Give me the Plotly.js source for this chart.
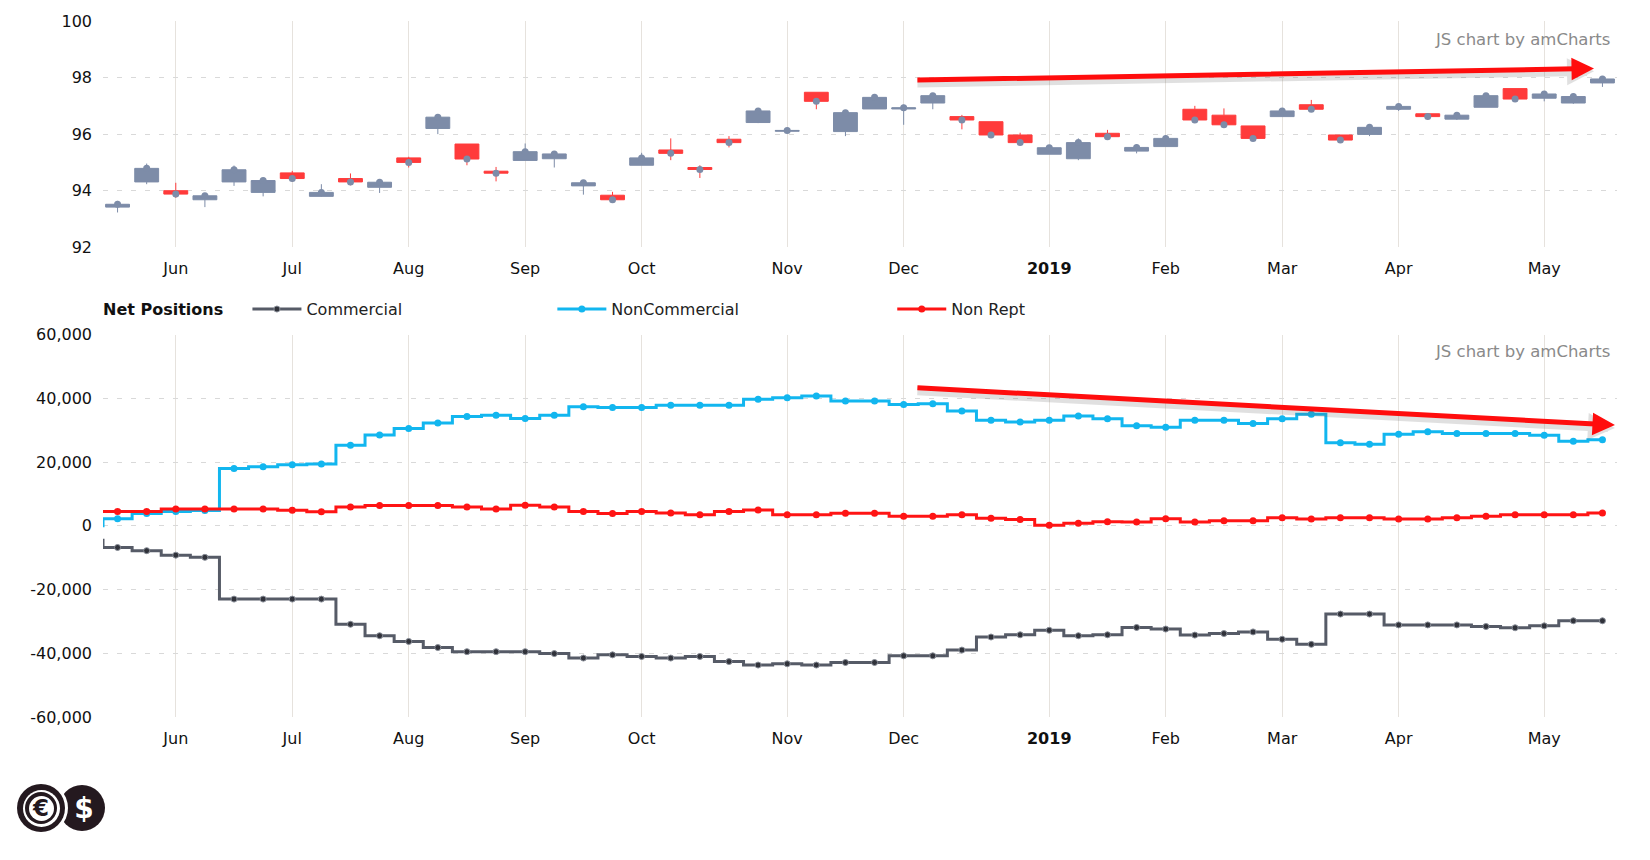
<!DOCTYPE html>
<html>
<head>
<meta charset="utf-8">
<script src="https://cdn.plot.ly/plotly-3.0.1.min.js"></script>
<style>
    body { margin: 0; background: #fff; }
    #wrap { position: relative; width: 1650px; height: 860px; }
    #chart { width: 1650px; height: 860px; }
    .disc { position: absolute; border-radius: 50%; display: flex; align-items: center; justify-content: center; }
</style>
</head>
<body>
<div id="wrap">
    <div id="chart"></div>
    <!-- logo: dollar coin behind, euro coin in front -->
    <div class="disc" style="left:59px;top:785px;width:46px;height:46px;background:#24191f;">
        <span style="color:#fff;font:bold 28px 'DejaVu Sans';margin-left:4px;">$</span>
    </div>
    <div class="disc" style="left:17px;top:784px;width:48px;height:48px;background:#24191f;box-shadow:0 0 0 3px #fff;">
        <div class="disc" style="position:static;width:37px;height:37px;background:#fff;">
            <div class="disc" style="position:static;width:32px;height:32px;background:#24191f;">
                <div class="disc" style="position:static;width:25px;height:25px;background:#fff;">
                    <span style="color:#24191f;font:bold 23px 'DejaVu Sans';">€</span>
                </div>
            </div>
        </div>
    </div>
</div>
<script>
// weekly candles, week 0 = late May 2018
const weeks = Array.from({ length: 52 }, (_, i) => i);

const candleOpen = [93.42, 94.31, 94.0, 93.68, 94.31, 93.94, 94.63, 93.80, 94.43, 94.12,
    95.16, 96.2, 95.65, 94.69, 95.07, 95.13, 94.17, 93.84, 94.9, 95.44,
    94.82, 95.82, 96.41, 96.1, 97.48, 96.09, 96.89, 96.89, 97.1, 96.62,
    96.44, 95.97, 95.29, 95.13, 96.03, 95.40, 95.56, 96.88, 96.67, 96.29,
    96.62, 97.04, 95.97, 95.99, 96.88, 96.72, 96.53, 96.95, 97.61, 97.27,
    97.1, 97.81];
const candleHigh = [93.64, 94.96, 94.28, 93.92, 94.89, 94.45, 94.70, 94.23, 94.61, 94.41,
    95.2, 96.71, 95.65, 94.84, 95.67, 95.32, 94.37, 93.96, 95.34, 95.85,
    94.9, 95.93, 96.91, 96.16, 97.48, 96.82, 97.39, 97.04, 97.45, 96.68,
    96.44, 96.05, 95.58, 95.85, 96.15, 95.64, 95.97, 97.0, 96.91, 96.29,
    96.92, 97.21, 95.97, 96.33, 97.06, 96.72, 96.74, 97.45, 97.61, 97.51,
    97.43, 98.04];
const candleLow = [93.23, 94.23, 93.75, 93.42, 94.17, 93.80, 94.31, 93.78, 94.19, 93.92,
    94.82, 96.0, 94.9, 94.33, 95.07, 94.82, 93.86, 93.6, 94.9, 95.08,
    94.45, 95.53, 96.39, 96.08, 96.88, 95.93, 96.89, 96.33, 96.88, 96.17,
    95.91, 95.61, 95.29, 95.08, 95.89, 95.32, 95.56, 96.41, 96.27, 95.79,
    96.62, 96.82, 95.73, 95.93, 96.82, 96.5, 96.5, 96.95, 97.19, 97.16,
    97.07, 97.67];
const candleClose = [93.52, 94.79, 93.88, 93.82, 94.74, 94.36, 94.43, 93.94, 94.31, 94.30,
    95.0, 96.6, 95.12, 94.62, 95.38, 95.30, 94.28, 93.68, 95.16, 95.32,
    94.75, 95.7, 96.82, 96.13, 97.16, 96.76, 97.3, 96.93, 97.36, 96.5,
    95.97, 95.70, 95.52, 95.70, 95.91, 95.53, 95.85, 96.5, 96.33, 95.85,
    96.82, 96.88, 95.79, 96.24, 96.98, 96.62, 96.67, 97.36, 97.24, 97.42,
    97.33, 97.95];

// net positions (contracts), same weeks
const commercial = [-6800, -7800, -9200, -9900, -23000, -23000, -23000, -23000, -30900, -34500,
    -36300, -38200, -39500, -39500, -39500, -40100, -41500, -40500, -41000, -41500,
    -41000, -42600, -43700, -43300, -43700, -42900, -42900, -40800, -40800, -39000,
    -34900, -34200, -32800, -34500, -34200, -31900, -32400, -34300, -33800, -33300,
    -35600, -37200, -27700, -27700, -31100, -31100, -31100, -31600, -32000, -31400,
    -29800, -29800];
const nonCommercial = [2200, 3900, 4500, 4800, 18000, 18500, 19200, 19400, 25300, 28500,
    30500, 32300, 34300, 34700, 33700, 34700, 37400, 37100, 37100, 37800,
    37800, 37800, 39700, 40200, 40700, 39200, 39200, 38100, 38300, 36000,
    33100, 32600, 33100, 34500, 33600, 31400, 30900, 33100, 33100, 32100,
    33600, 35000, 26100, 25600, 28700, 29500, 29000, 29000, 29000, 28400,
    26500, 27000];
const nonRept = [4500, 4500, 5300, 5300, 5300, 5300, 4850, 4450, 5900, 6350,
    6350, 6350, 5900, 5300, 6450, 5900, 4500, 3900, 4500, 4000,
    3450, 4500, 5000, 3500, 3500, 3950, 3950, 3000, 3000, 3500,
    2400, 2000, 200, 800, 1250, 1200, 2250, 1200, 1600, 1600,
    2550, 2150, 2550, 2500, 2100, 2100, 2550, 3000, 3500, 3500,
    3500, 4000];
// values of the week before the visible window (seen at the left edge)
const priorWeek = { commercial: -4500, nonCommercial: 0, nonRept: 4500 };

const monthTicks = [2, 6, 10, 14, 18, 23, 27, 32, 36, 40, 44, 49];
const monthLabels = ['Jun', 'Jul', 'Aug', 'Sep', 'Oct', 'Nov', 'Dec', '<b>2019</b>', 'Feb', 'Mar', 'Apr', 'May'];
const priceTicks = [92, 94, 96, 98, 100];
const posTicks = [60000, 40000, 20000, 0, -20000, -40000, -60000];
const posLabels = ['60,000', '40,000', '20,000', '0', '-20,000', '-40,000', '-60,000'];

const GRAY = '#7d8ca8';
const RED = '#ff3b3b';
const FONT = 'DejaVu Sans, Verdana, sans-serif';

const stepX = [-1, ...weeks];

const traces = [
    {
        type: 'candlestick',
        x: weeks, open: candleOpen, high: candleHigh, low: candleLow, close: candleClose,
        increasing: { line: { color: GRAY, width: 1 }, fillcolor: GRAY },
        decreasing: { line: { color: RED, width: 1 }, fillcolor: RED },
        whiskerwidth: 0,
        showlegend: false, hoverinfo: 'skip',
        xaxis: 'x', yaxis: 'y',
    },
    {
        type: 'scatter', mode: 'markers',
        x: weeks, y: candleClose,
        marker: { color: GRAY, size: 7 },
        showlegend: false, hoverinfo: 'skip',
        xaxis: 'x', yaxis: 'y',
    },
    {
        type: 'scatter', mode: 'lines+markers', name: 'Commercial',
        x: stepX, y: [priorWeek.commercial, ...commercial],
        line: { shape: 'hvh', color: '#565b67', width: 3 },
        marker: { color: '#30323a', size: 6, line: { color: '#8a8f99', width: 1 } },
        xaxis: 'x2', yaxis: 'y2', legend: 'legend',
    },
    {
        type: 'scatter', mode: 'lines+markers', name: 'NonCommercial',
        x: stepX, y: [priorWeek.nonCommercial, ...nonCommercial],
        line: { shape: 'hvh', color: '#12b6ef', width: 3 },
        marker: { color: '#12b6ef', size: 7 },
        xaxis: 'x2', yaxis: 'y2', legend: 'legend2',
    },
    {
        type: 'scatter', mode: 'lines+markers', name: 'Non Rept',
        x: stepX, y: [priorWeek.nonRept, ...nonRept],
        line: { shape: 'hvh', color: '#ff1414', width: 3 },
        marker: { color: '#ff1414', size: 7 },
        xaxis: 'x2', yaxis: 'y2', legend: 'legend3',
    },
];

const xBase = {
    range: [-0.5, 51.5],
    tickmode: 'array', tickvals: monthTicks, ticktext: monthLabels,
    showgrid: true, gridcolor: '#e6e2dd', gridwidth: 1,
    zeroline: false, showline: false, ticks: '',
    ticklabelstandoff: 10,
    tickfont: { family: FONT, size: 16, color: '#111' },
    fixedrange: true,
};
const yBase = {
    tickmode: 'array',
    showgrid: true, gridcolor: '#d9d9d9', griddash: '5px,9px',
    zeroline: false, showline: false, ticks: '',
    ticklabelstandoff: 10,
    tickfont: { family: FONT, size: 16, color: '#111' },
    fixedrange: true,
};

const legendBase = {
    orientation: 'h', yanchor: 'middle', y: 0.586, xanchor: 'left',
    bgcolor: 'rgba(0,0,0,0)', borderwidth: 0,
    itemwidth: 49, itemclick: false, itemdoubleclick: false,
    font: { family: FONT, size: 16, color: '#222' },
};

const credit = (y) => ({
    xref: 'paper', yref: 'paper', x: 0.9967, y: y, xanchor: 'right', yanchor: 'middle',
    text: 'JS chart by amCharts', showarrow: false,
    font: { family: FONT, size: 16.5, color: '#8a8a8a' },
});

const arrow = (xr, yr, x, y, ax, ay, color, width, size) => ({
    xref: xr, yref: yr, axref: xr, ayref: yr,
    x: x, y: y, ax: ax, ay: ay, text: '',
    showarrow: true, arrowhead: 2, arrowsize: size, arrowwidth: width, arrowcolor: color,
});

const layout = {
    width: 1650, height: 860,
    margin: { l: 103, r: 33, t: 21, b: 143 },
    paper_bgcolor: '#fff', plot_bgcolor: '#fff',
    font: { family: FONT, size: 16, color: '#111' },
    xaxis: { ...xBase, anchor: 'y', rangeslider: { visible: false } },
    yaxis: { ...yBase, domain: [0.6749, 1], range: [92, 100], tickvals: priceTicks },
    xaxis2: { ...xBase, anchor: 'y2' },
    yaxis2: { ...yBase, domain: [0, 0.5494], range: [-60000, 60000], tickvals: posTicks, ticktext: posLabels },
    boxgap: 0.18,
    boxgroupgap: 0,
    legend: { ...legendBase, x: 0.0954 },
    legend2: { ...legendBase, x: 0.2968 },
    legend3: { ...legendBase, x: 0.5213 },
    annotations: [
        {
            xref: 'paper', yref: 'paper', x: -0.0014, y: 0.586, xanchor: 'left', yanchor: 'middle',
            text: '<b>Net Positions</b>', showarrow: false,
            font: { family: FONT, size: 16, color: '#111' },
        },
        credit(0.9741),
        credit(0.5251),
        // shadows under the trend arrows
        arrow('x', 'y', 50.71, 98.22, 27.42, 97.81, 'rgba(90,90,90,0.18)', 9, 0.6),
        arrow('x2', 'y2', 51.43, 30700, 27.42, 42400, 'rgba(90,90,90,0.18)', 9, 0.6),
        arrow('x', 'y', 50.71, 98.32, 27.42, 97.91, '#ff0d0d', 5, 0.9),
        arrow('x2', 'y2', 51.43, 31600, 27.42, 43350, '#ff0d0d', 5, 0.9),
    ],
};

Plotly.newPlot('chart', traces, layout, { displayModeBar: false, staticPlot: true });
</script>
</body>
</html>
